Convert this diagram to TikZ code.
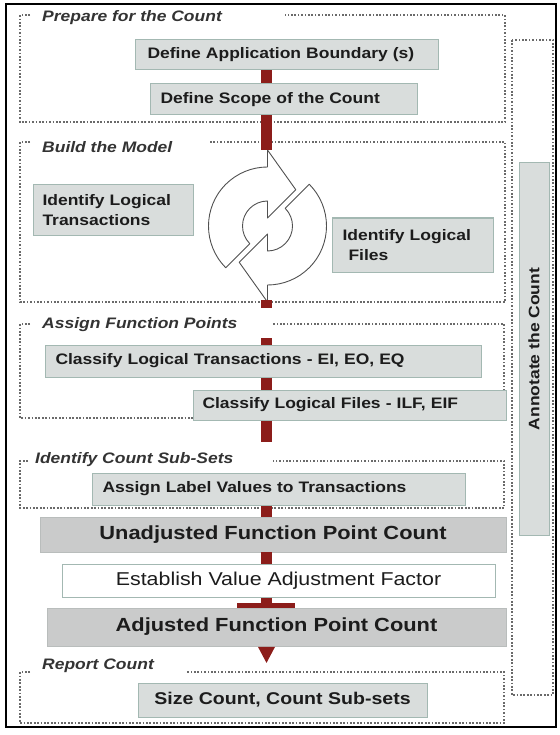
\documentclass[tikz,border=0pt]{standalone}
\usepackage{fontspec}
\setmainfont{Liberation Sans}[FakeStretch=1.15]
\definecolor{boxfill}{HTML}{D9DDDC}
\definecolor{boxedge}{HTML}{A3B8B2}
\definecolor{bigfill}{HTML}{CACBCB}
\definecolor{bigedge}{HTML}{B9BDBC}
\definecolor{dotgray}{HTML}{6A6A6A}
\definecolor{barred}{HTML}{8C1D1A}
\definecolor{inkdark}{HTML}{1C1C1C}
\definecolor{cycgray}{HTML}{505050}
\begin{document}
\begin{tikzpicture}[x=1pt,y=-1pt,
  gbox/.style={draw=boxedge, fill=boxfill, line width=1pt, inner ysep=0pt,
    align=left, anchor=west, text=inkdark,
    font=\fontsize{15.2}{20}\selectfont\bfseries},
  bigbox/.style={draw=bigedge, fill=bigfill, line width=0.8pt, inner sep=0pt,
    text=inkdark, font=\fontsize{19}{22}\selectfont\bfseries},
  plainbox/.style={draw=boxedge, fill=white, line width=1pt, inner sep=0pt,
    text=inkdark, font=\fontsize{18.6}{22}\selectfont},
  seclabel/.style={anchor=west, inner sep=0pt, text=inkdark!90,
    font=\fontsize{15.2}{18}\selectfont\bfseries\itshape},
  dotbox/.style={draw=dotgray, line width=1.3pt, dash pattern=on 1.7pt off 1.7pt},
  redbar/.style={draw=barred, line width=11pt},
  cyc/.style={draw=cycgray, line width=0.9pt, line join=round}]

\useasboundingbox (0,0) rectangle (559,735);
\draw[line width=2.5pt] (6,4) rectangle (556,727);

% section frames, open at the top where their titles sit
\draw[dotbox] (30,15) -- (20,15) -- (20,122) -- (505,122) -- (505,15) -- (285,15);
\draw[dotbox] (30,142) -- (20,142) -- (20,302) -- (505,302) -- (505,142) -- (210,142);
\draw[dotbox] (30,324) -- (20,324) -- (20,418) -- (504,418) -- (504,324) -- (273,324);
\draw[dotbox] (28,461) -- (20,461) -- (20,508) -- (504,508) -- (504,461) -- (273,461);
\draw[dotbox] (30,672) -- (20,672) -- (20,723) -- (504,723) -- (504,672) -- (187,672);
\draw[dotbox] (512,40) rectangle (553,695);

\node[seclabel] (lprep) at (42,18) {Prepare for the Count};
\node[seclabel] (lbuild) at (42,147) {Build the Model};
\node[seclabel] (lassignfp) at (42,325) {Assign Function Points};
\node[seclabel] (lsubsets) at (35,460) {Identify Count Sub-Sets};
\node[seclabel] (lreport) at (42,666) {Report Count};

% process steps
\node[gbox, inner xsep=12pt, text width=279pt, minimum height=30pt] (defapp) at (135,55) {Define Application Boundary (s)};
\node[gbox, inner xsep=10pt, text width=247pt, minimum height=31pt] (defscope) at (150,99.5) {Define Scope of the Count};
\node[gbox, inner xsep=9pt, text width=142pt, minimum height=50pt] (idtrans) at (33,210) {Identify Logical\\Transactions};
\node[gbox, inner xsep=10pt, text width=141pt, minimum height=54pt] (idfiles) at (332,245) {Identify Logical\\\hspace*{6pt}Files};
\node[gbox, inner xsep=10pt, text width=416pt, minimum height=32pt] (classT) at (45,361) {Classify Logical Transactions - EI, EO, EQ};
\node[gbox, inner xsep=9pt, text width=295pt, minimum height=30pt] (classF) at (193,405) {Classify Logical Files - ILF, EIF};
\node[gbox, inner xsep=10pt, text width=353pt, minimum height=32pt] (assign) at (92,489) {Assign Label Values to Transactions};
\node[bigbox, minimum width=466pt, minimum height=35pt] (unadj) at (273,534.5) {Unadjusted Function Point Count};
\node[plainbox, minimum width=433pt, minimum height=33pt] (establish) at (278.5,580.5) {Establish Value Adjustment Factor};
\node[bigbox, minimum width=459pt, minimum height=38pt] (adj) at (276.5,627) {Adjusted Function Point Count};
\node[gbox, anchor=center, align=center, inner sep=0pt, minimum width=289pt, minimum height=34pt,
  font=\fontsize{17}{20}\selectfont\bfseries] (sizecount) at (282.5,700) {Size Count, Count Sub-sets};
\node[gbox, anchor=center, align=center, inner sep=0pt, rotate=90, minimum width=372pt, minimum height=30pt] (annot) at (534,349) {Annotate the Count};

% the model-building cycle
\begin{scope}[shift={(267.5,226)}, yscale=-1]
  \draw[cyc] (225:59) arc[start angle=225, end angle=90, radius=59]
    -- (90:76) -- (52:46) -- (90:8) -- (90:25)
    arc[start angle=90, end angle=225, radius=25] -- cycle;
  \draw[cyc] (45:59) arc[start angle=45, end angle=-90, radius=59]
    -- (-90:76) -- (-128:46) -- (-90:8) -- (-90:25)
    arc[start angle=-90, end angle=45, radius=25] -- cycle;
\end{scope}

% red flow spine
\coordinate (spine) at (266.5,0);
\coordinate (cyctop) at (266.5,150);
\coordinate (cycbot) at (266.5,300);
\coordinate (sec2out) at (266.5,308);
\coordinate (sec3in) at (266.5,338);
\coordinate (sec3out) at (266.5,442);
\coordinate (teemid) at (266.5,603);
\coordinate (teeL) at (237,605.5);
\coordinate (teeR) at (295,605.5);
\draw[redbar] (defapp.south -| spine) -- (defscope.north -| spine);
\draw[redbar] (defscope.south -| spine) -- (cyctop);
\draw[redbar] (cycbot) -- (sec2out);
\draw[redbar] (sec3in) -- (classT.north -| spine);
\draw[redbar] (classT.south -| spine) -- (classF.north -| spine);
\draw[redbar] (classF.south -| spine) -- (sec3out);
\draw[redbar] (assign.south -| spine) -- (unadj.north -| spine);
\draw[redbar] (unadj.south -| spine) -- (establish.north -| spine);
\draw[redbar] (establish.south -| spine) -- (teemid);
\draw[draw=barred, line width=5pt] (teeL) -- (teeR);
\fill[barred] (adj.south -| spine) ++(-8.5,0.5) -- ++(17,0) -- ++(-8.5,16) -- cycle;

\end{tikzpicture}
\end{document}
